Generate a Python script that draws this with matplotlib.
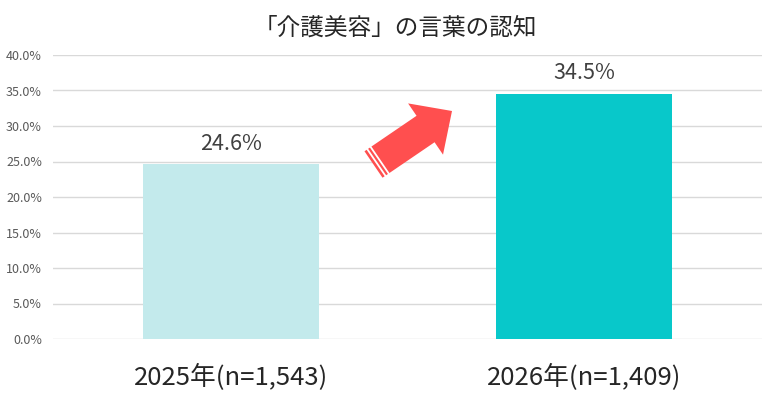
import numpy as np
import matplotlib
matplotlib.use("Agg")
import matplotlib.pyplot as plt
from matplotlib.patches import Polygon
from matplotlib.ticker import FuncFormatter

plt.rcParams['font.family'] = ['Noto Sans CJK JP', 'DejaVu Sans']

title = "「介護美容」の言葉の認知"
categories = ["2025年(n=1,543)", "2026年(n=1,409)"]
values = [24.6, 34.5]
bar_colors = ["#C3EAEC", "#08C8CA"]
yticks = [0, 5, 10, 15, 20, 25, 30, 35, 40]

W, H = 780, 413
fig = plt.figure(figsize=(W / 100, H / 100), dpi=100)
ax = fig.add_axes([53 / W, 1 - 339 / H, (762 - 53) / W, (339 - 55) / H])

x = np.arange(len(categories))
bars = ax.bar(x, values, width=0.5, color=bar_colors, zorder=2)
ax.set_xlim(-0.504, 1.504)
ax.set_ylim(0, 40)
ax.set_yticks(yticks)
ax.yaxis.set_major_formatter(FuncFormatter(lambda v, p: f"{v:.1f}%"))
ax.grid(axis='y', color='#D9D9D9', linewidth=1, zorder=0)
ax.set_axisbelow(True)
for s in ax.spines.values():
    s.set_visible(False)
ax.tick_params(axis='y', length=0, pad=8, labelsize=9, labelcolor='#595959')
ax.tick_params(axis='x', length=0, pad=17, labelsize=18.5, labelcolor='#262626')
ax.set_xticks(x)
ax.set_xticklabels(categories)

for xi, v in zip(x, values):
    ax.annotate(f"{v}%", (xi, v), xytext=(0, 7), textcoords='offset points',
                ha='center', va='bottom', fontsize=15.5, color='#404040')

fig.text(395 / W, 1 - 28 / H, title, ha='center', va='center', fontsize=17, color='#262626')

# decorative arrow (figure pixel geometry, y-up)
tail = np.array([373.5, H - 164.5])
tip = np.array([452.0, H - 111.0])
d = tip - tail
L = np.hypot(*d)
u = d / L
n = np.array([-u[1], u[0]])
shaft_w = 32
head_w = 62
head_len = 32
base = tip - u * head_len
pts = [
    tail + n * shaft_w / 2,
    base + n * shaft_w / 2,
    base + n * head_w / 2,
    tip,
    base - n * head_w / 2,
    base - n * shaft_w / 2,
    tail - n * shaft_w / 2,
]
pts = np.array(pts)
arrow = Polygon(pts / [W, H], closed=True, transform=fig.transFigure,
                facecolor='#FF4F4F', edgecolor='none')
fig.patches.append(arrow)
for dist in (3.5, 7.5):
    c = tail + u * dist
    p1 = (c + n * (shaft_w / 2 + 1)) / [W, H]
    p2 = (c - n * (shaft_w / 2 + 1)) / [W, H]
    fig.lines.append(plt.Line2D([p1[0], p2[0]], [p1[1], p2[1]], transform=fig.transFigure,
                                color='white', linewidth=1.3))

fig.savefig("out.png", dpi=100)
